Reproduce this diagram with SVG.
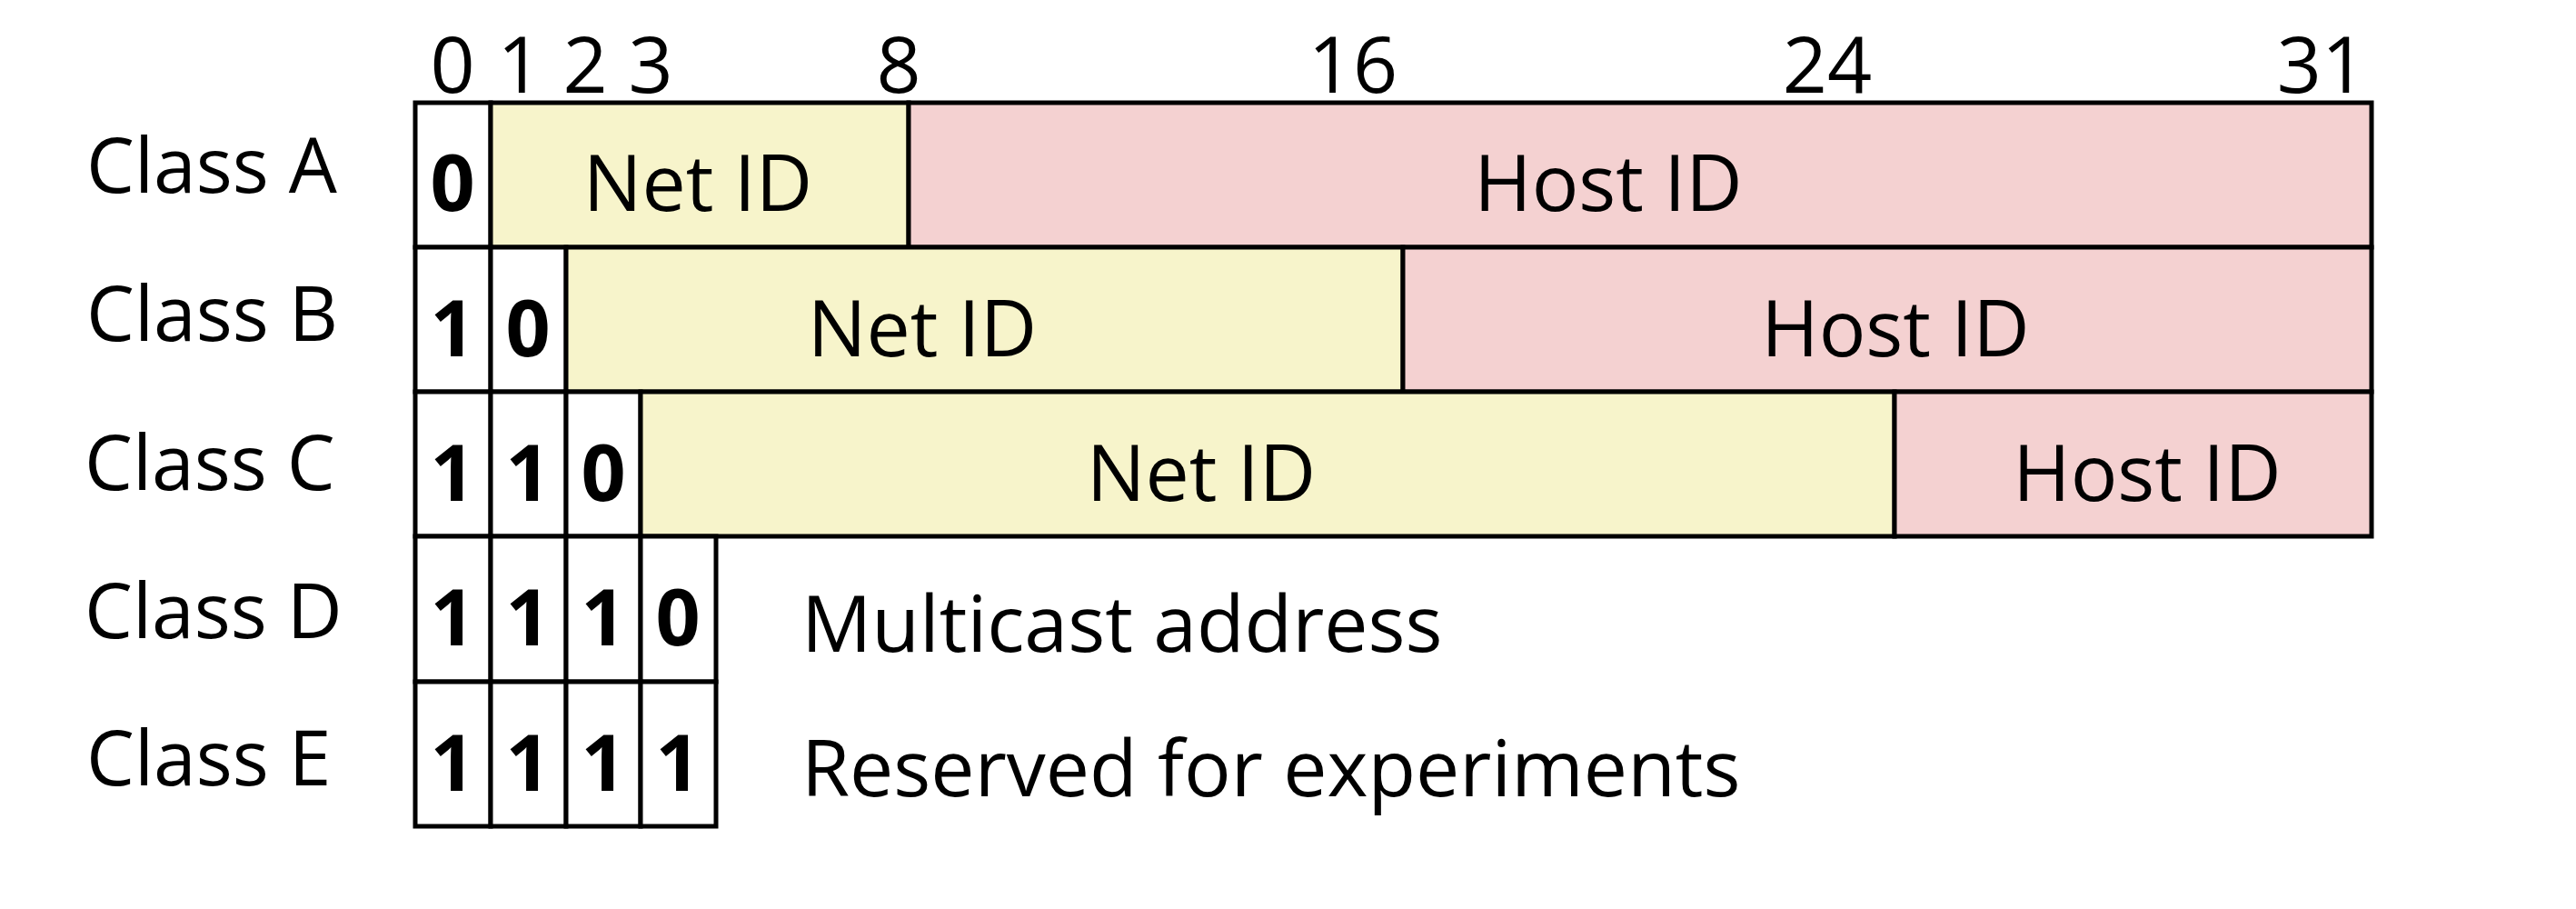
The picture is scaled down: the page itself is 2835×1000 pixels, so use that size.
<svg xmlns="http://www.w3.org/2000/svg" width="2835" height="1000" viewBox="0 0 2835 1000">
<style>
text{font-family:"Open Sans","Noto Sans","Liberation Sans",sans-serif;font-size:86px;fill:#000}
.b{font-weight:bold;text-anchor:middle}
.m{text-anchor:middle}
.l{font-size:84px}
.c{stroke:#000;stroke-width:5;fill:#fff}
.y{stroke:#000;stroke-width:5;fill:#F7F4CB}
.p{stroke:#000;stroke-width:5;fill:#F4D1D1}
</style>
<rect width="2835" height="1000" fill="#fff"/>
<g id="bit-labels">
<text class="m" x="498" y="102">0</text>
<text class="m" x="572" y="102">1</text>
<text class="m" x="644" y="102">2</text>
<text class="m" x="716" y="102">3</text>
<text class="m" x="989" y="102">8</text>
<text class="m" x="1489" y="102">16</text>
<text class="m" x="2011" y="102">24</text>
<text class="m" x="2555" y="102">31</text>
</g>
<g id="class-labels">
<text class="l" x="95" y="212">Class A</text>
<text class="l" x="95" y="375">Class B</text>
<text class="l" x="93" y="539">Class C</text>
<text class="l" x="93" y="702">Class D</text>
<text class="l" x="95" y="864">Class E</text>
</g>
<g id="classA">
<rect class="c" x="457" y="113" width="83" height="159"/>
<rect class="y" x="540" y="113" width="460" height="159"/>
<rect class="p" x="1000" y="113" width="1610" height="159"/>
<text class="b" x="498" y="232">0</text>
<text class="m" x="768" y="232">Net ID</text>
<text class="m" x="1770" y="232">Host ID</text>
</g>
<g id="classB">
<rect class="c" x="457" y="272" width="83" height="159"/>
<rect class="c" x="540" y="272" width="83" height="159"/>
<rect class="y" x="623" y="272" width="921" height="159"/>
<rect class="p" x="1544" y="272" width="1066" height="159"/>
<text class="b" x="498" y="392">1</text>
<text class="b" x="581" y="392">0</text>
<text class="m" x="1015" y="392">Net ID</text>
<text class="m" x="2086" y="392">Host ID</text>
</g>
<g id="classC">
<rect class="c" x="457" y="431" width="83" height="159"/>
<rect class="c" x="540" y="431" width="83" height="159"/>
<rect class="c" x="623" y="431" width="82" height="159"/>
<rect class="y" x="705" y="431" width="1380" height="159"/>
<rect class="p" x="2085" y="431" width="525" height="159"/>
<text class="b" x="498" y="551">1</text>
<text class="b" x="581" y="551">1</text>
<text class="b" x="664" y="551">0</text>
<text class="m" x="1322" y="551">Net ID</text>
<text class="m" x="2363" y="551">Host ID</text>
</g>
<g id="classD">
<rect class="c" x="457" y="590" width="83" height="160"/>
<rect class="c" x="540" y="590" width="83" height="160"/>
<rect class="c" x="623" y="590" width="82" height="160"/>
<rect class="c" x="705" y="590" width="83" height="160"/>
<text class="b" x="498" y="710">1</text>
<text class="b" x="581" y="710">1</text>
<text class="b" x="664" y="710">1</text>
<text class="b" x="746" y="710">0</text>
<text x="882" y="717">Multicast address</text>
</g>
<g id="classE">
<rect class="c" x="457" y="750" width="83" height="159"/>
<rect class="c" x="540" y="750" width="83" height="159"/>
<rect class="c" x="623" y="750" width="82" height="159"/>
<rect class="c" x="705" y="750" width="83" height="159"/>
<text class="b" x="498" y="870">1</text>
<text class="b" x="581" y="870">1</text>
<text class="b" x="664" y="870">1</text>
<text class="b" x="746" y="870">1</text>
<text x="882" y="876">Reserved for experiments</text>
</g>
</svg>
